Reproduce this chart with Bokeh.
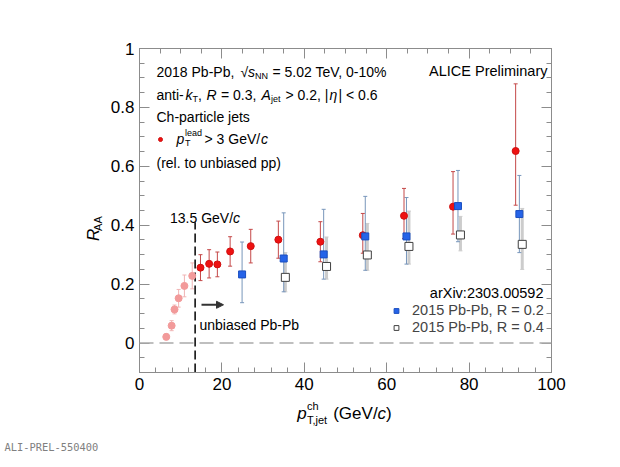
from math import pi
import numpy as np
from bokeh.plotting import figure
from bokeh.layouts import row, column
from bokeh.models import (ColumnDataSource, Whisker, TeeHead, Span, Label, Arrow,
                          NormalHead, LinearAxis, FixedTicker, CustomJSTickFormatter,
                          Legend, LegendItem, Range1d)
from bokeh.embed import file_html
from bokeh.resources import INLINE

# axis ticks
x_ticks = [0, 20, 40, 60, 80, 100]
y_ticks = [0, 0.2, 0.4, 0.6, 0.8, 1.0]

# 2018 Pb-Pb R=0.3, jets below the 13.5 GeV/c threshold (drawn faded)
low_pt = [6.5, 7.8, 8.5, 9.5, 10.9, 12.8]
low_raa = [0.021, 0.059, 0.114, 0.152, 0.194, 0.228]
low_lo = [0.011, 0.042, 0.099, 0.122, 0.157, 0.184]
low_hi = [0.031, 0.076, 0.129, 0.182, 0.231, 0.272]

# 2018 Pb-Pb R=0.3, pT lead > 3 GeV/c
lead_pt = [14.8, 16.9, 18.9, 22.0, 27.0, 33.7, 43.9, 54.2, 64.2, 76.1, 91.3]
lead_raa = [0.256, 0.269, 0.267, 0.311, 0.329, 0.351, 0.344, 0.366, 0.432, 0.463, 0.652]
lead_lo = [0.212, 0.221, 0.225, 0.261, 0.272, 0.288, 0.276, 0.305, 0.355, 0.370, 0.468]
lead_hi = [0.300, 0.317, 0.309, 0.361, 0.386, 0.414, 0.412, 0.440, 0.525, 0.582, 0.880]

# 2015 Pb-Pb, R = 0.2
r02_pt = [24.9, 35.0, 44.7, 54.8, 64.8, 77.3, 92.2]
r02_raa = [0.233, 0.287, 0.301, 0.362, 0.362, 0.465, 0.438]
r02_lo = [0.137, 0.174, 0.217, 0.247, 0.268, 0.344, 0.307]
r02_hi = [0.343, 0.442, 0.454, 0.498, 0.494, 0.586, 0.569]

# 2015 Pb-Pb, R = 0.4
r04_pt = [35.4, 45.4, 55.3, 65.4, 77.9, 92.9]
r04_raa = [0.223, 0.260, 0.299, 0.328, 0.367, 0.335]
r04_lo = [0.174, 0.217, 0.247, 0.268, 0.313, 0.250]
r04_hi = [0.307, 0.360, 0.406, 0.448, 0.430, 0.457]

cut_pt = 13.5

FONT = "Liberation Sans"
GREY = "#8c8c8c"

LEFT_W = 106      # strip left of the plot (y title)
MAIN_H = 397      # height of the main figure
TOTAL_W = 604
TOTAL_H = 451

p = figure(frame_width=412, frame_height=324,
           x_range=Range1d(0, 100), y_range=Range1d(-0.1, 1.0),
           min_border_left=139 - LEFT_W, min_border_right=TOTAL_W - 139 - 412,
           min_border_top=48, min_border_bottom=MAIN_H - 48 - 324,
           output_backend="svg", toolbar_location=None)
p.xgrid.visible = False
p.ygrid.visible = False
p.outline_line_color = GREY
p.background_fill_color = "white"
p.border_fill_color = "white"


# picture pixel -> data (only used for annotations)
def px_x(px):
    return (px - 139) / 4.12


def px_y(py):
    return (342.55 - py) / 294.5


# axes, ROOT style: ticks inside on all four sides
xt = FixedTicker(ticks=x_ticks, minor_ticks=[float(v) for v in np.arange(0, 101, 5)])
yt = FixedTicker(ticks=y_ticks, minor_ticks=[round(float(v), 2) for v in np.arange(-0.1, 1.001, 0.05)])
blank = CustomJSTickFormatter(code="return '';")
top = LinearAxis(ticker=xt, formatter=blank)
right = LinearAxis(ticker=yt, formatter=blank)
p.add_layout(top, "above")
p.add_layout(right, "right")
p.xaxis[0].ticker = xt
p.yaxis[0].ticker = yt
p.yaxis[0].formatter = CustomJSTickFormatter(code="return String(Math.round(tick * 10) / 10);")
for ax in p.axis:
    ax.axis_line_color = GREY
    ax.major_tick_line_color = GREY
    ax.minor_tick_line_color = GREY
    ax.major_tick_in = 10
    ax.major_tick_out = 0
    ax.minor_tick_in = 5
    ax.minor_tick_out = 0
    ax.major_label_text_font = FONT
    ax.major_label_text_font_size = "17px"
    ax.major_label_text_color = "black"
    ax.major_label_standoff = 5
top.major_label_standoff = 0
right.major_label_standoff = 0

p.add_layout(Span(location=0, dimension="width", line_color="#aaaaaa",
                  line_dash="14 6", line_width=1.5))
p.segment(x0=[cut_pt], y0=[-0.1], x1=[cut_pt], y1=[0.41],
          line_color="black", line_dash="9 4", line_width=1.5)


def errors(src, color, width=1.0):
    p.add_layout(Whisker(source=src, base="x", upper="hi", lower="lo",
                         line_color=color, line_width=width,
                         upper_head=TeeHead(size=4, line_color=color, line_width=1),
                         lower_head=TeeHead(size=4, line_color=color, line_width=1)))


src_low = ColumnDataSource(dict(x=low_pt, y=low_raa, lo=low_lo, hi=low_hi))
src_lead = ColumnDataSource(dict(x=lead_pt, y=lead_raa, lo=lead_lo, hi=lead_hi))
src_r02 = ColumnDataSource(dict(x=r02_pt, y=r02_raa, lo=r02_lo, hi=r02_hi))
src_r04 = ColumnDataSource(dict(x=r04_pt, y=r04_raa, lo=r04_lo, hi=r04_hi))

errors(src_r04, "#cccccc", 3)
errors(src_r02, "#7896bb")
errors(src_low, "#f0b4b4")
errors(src_lead, "#c44848")

p.scatter("x", "y", source=src_low, marker="circle", size=7,
          fill_color="#f29a9a", line_color="#f29a9a")
red = p.scatter("x", "y", source=src_lead, marker="circle", size=7,
                fill_color="#ee1111", line_color="#d01010")
blue = p.scatter("x", "y", source=src_r02, marker="square", size=7,
                 fill_color="#2563e8", line_color="#1a4fc0")
white = p.scatter("x", "y", source=src_r04, marker="square", size=8,
                  fill_color="white", line_color="#404040")

# legend for the 2015 results
leg = Legend(items=[LegendItem(label="2015 Pb-Pb, R = 0.2", renderers=[blue]),
                    LegendItem(label="2015 Pb-Pb, R = 0.4", renderers=[white])],
             location=(251, 36.5), glyph_width=12, glyph_height=17, label_height=17,
             label_standoff=10, padding=0, spacing=0, margin=0,
             border_line_color=None, background_fill_alpha=0,
             label_text_font=FONT, label_text_font_size="14.5px")
p.add_layout(leg)
# marker for the red series in the text block
leg2 = Legend(items=[LegendItem(label="", renderers=[red])],
              location=(16, 228), glyph_width=10, glyph_height=10, label_height=10,
              label_width=0, label_standoff=0, padding=0, spacing=0, margin=0,
              border_line_color=None, background_fill_alpha=0,
              label_text_font_size="10px")
p.add_layout(leg2)


def put(fig, x, y, txt, size=14, italic=False, color="black", angle=0, align="left",
        baseline="alphabetic", font=FONT):
    fig.add_layout(Label(x=x, y=y, text=txt, text_font=font,
                         text_font_size=f"{size}px",
                         text_font_style="italic" if italic else "normal",
                         text_color=color, text_baseline=baseline,
                         text_align=align, angle=angle))


def inside(px, py, txt, **kw):
    put(p, px_x(px), px_y(py), txt, **kw)


# text block, top left
inside(156, 72, "2018 Pb-Pb,")
inside(240, 72, "\u221a")
inside(247.5, 72, "s", italic=True)
inside(254.5, 75.5, "NN", size=9)
inside(272, 72, "= 5.02 TeV, 0-10%")

inside(156, 95, "anti-")
inside(185, 95, "k", italic=True)
inside(192, 98.5, "T", size=9)
inside(197.5, 95, ",")
inside(206, 95, "R", italic=True)
inside(220.5, 95, "= 0.3,")
inside(261, 95, "A", italic=True)
inside(270.5, 98.5, "jet", size=9)
inside(285, 95, "> 0.2, |")
inside(329, 95, "\u03b7", italic=True)
inside(338, 95, "| < 0.6")

inside(156, 117, "Ch-particle jets")

inside(176, 139, "p", italic=True)
inside(184.5, 133, "lead", size=9)
inside(184.5, 143, "T", size=9)
inside(204, 139, "> 3 GeV/")
inside(260.5, 139, "c", italic=True)

inside(156, 163, "(rel. to unbiased pp)")

inside(547, 71, "ALICE Preliminary", size=14.5, align="right")

inside(169.5, 218, "13.5 GeV/")
inside(232.5, 218, "c", italic=True)

p.add_layout(Arrow(end=NormalHead(size=7, fill_color="#333333", line_color="#333333"),
                   x_start=px_x(201), y_start=px_y(304.3),
                   x_end=px_x(223), y_end=px_y(304.3),
                   line_color="#333333", line_width=2))
inside(199, 325, "unbiased Pb-Pb")

inside(543, 293, "arXiv:2303.00592", size=14.5, align="right")


def strip(w, h):
    s = figure(width=w, height=h, x_range=Range1d(0, w), y_range=Range1d(0, h),
               x_axis_type=None, y_axis_type=None, min_border=0,
               outline_line_color=None, output_backend="svg", toolbar_location=None)
    s.background_fill_color = "white"
    s.border_fill_color = "white"
    return s


# y title, in a strip left of the plot (text reads bottom to top)
ytit = strip(LEFT_W, MAIN_H)
put(ytit, 92.5, MAIN_H - 228.5, "R", size=17, italic=True, angle=pi / 2,
    align="center", baseline="middle")
put(ytit, 97, MAIN_H - 214.5, "AA", size=11, angle=pi / 2,
    align="center", baseline="middle")

# x title and figure tag, in a strip under the plot
bot_h = TOTAL_H - MAIN_H
xtit = strip(TOTAL_W, bot_h)


def under(px, py, txt, **kw):
    put(xtit, px, TOTAL_H - py, txt, **kw)


under(296.7, 413, "p", size=17, italic=True)
under(306.5, 405, "ch", size=11)
under(306.5, 419, "T,jet", size=11)
under(332.7, 413, "(GeV/", size=17)
under(377.1, 413, "c", size=17, italic=True)
under(385.6, 413, ")", size=17)
under(4, 446, "ALI-PREL-550400", size=10.4, color="#808080", font="DejaVu Sans Mono")

layout = column(row(ytit, p, spacing=0), xtit, spacing=0)

open("out.html", "w").write(file_html(layout, INLINE))
